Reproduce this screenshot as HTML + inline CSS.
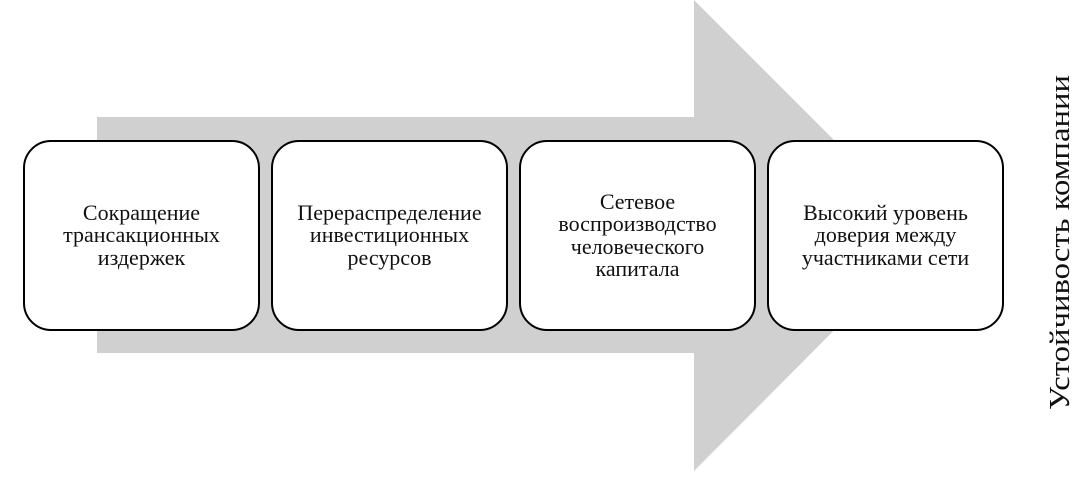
<!DOCTYPE html>
<html><head><meta charset="utf-8"><style>
body{margin:0;background:#fff;}
.wrap{position:relative;width:1085px;height:479px;overflow:hidden;font-family:"Liberation Serif",serif;}
.box{position:absolute;top:140px;width:233px;height:187px;border:2px solid #000;border-radius:28px;background:#fff;display:flex;align-items:center;justify-content:center;text-align:center;font-size:22px;line-height:22.5px;color:#111;}
</style></head><body><div class="wrap">
<svg width="1085" height="479" style="position:absolute;left:0;top:0">
<polygon points="97,117 694,117 694,0 929,235 694,471 694,353 97,353" fill="#d0d0d0"/>
<text x="0" y="0" transform="translate(1069,410) rotate(-90)" font-family="Liberation Serif, serif" font-size="29" fill="#111" textLength="335" lengthAdjust="spacingAndGlyphs">Устойчивость компании</text>
</svg>
<div class="box" style="left:23px">Сокращение<br>трансакционных<br>издержек</div>
<div class="box" style="left:271px">Перераспределение<br>инвестиционных<br>ресурсов</div>
<div class="box" style="left:519px">Сетевое<br>воспроизводство<br>человеческого<br>капитала</div>
<div class="box" style="left:767px">Высокий уровень<br>доверия между<br>участниками сети</div>
</div></body></html>
